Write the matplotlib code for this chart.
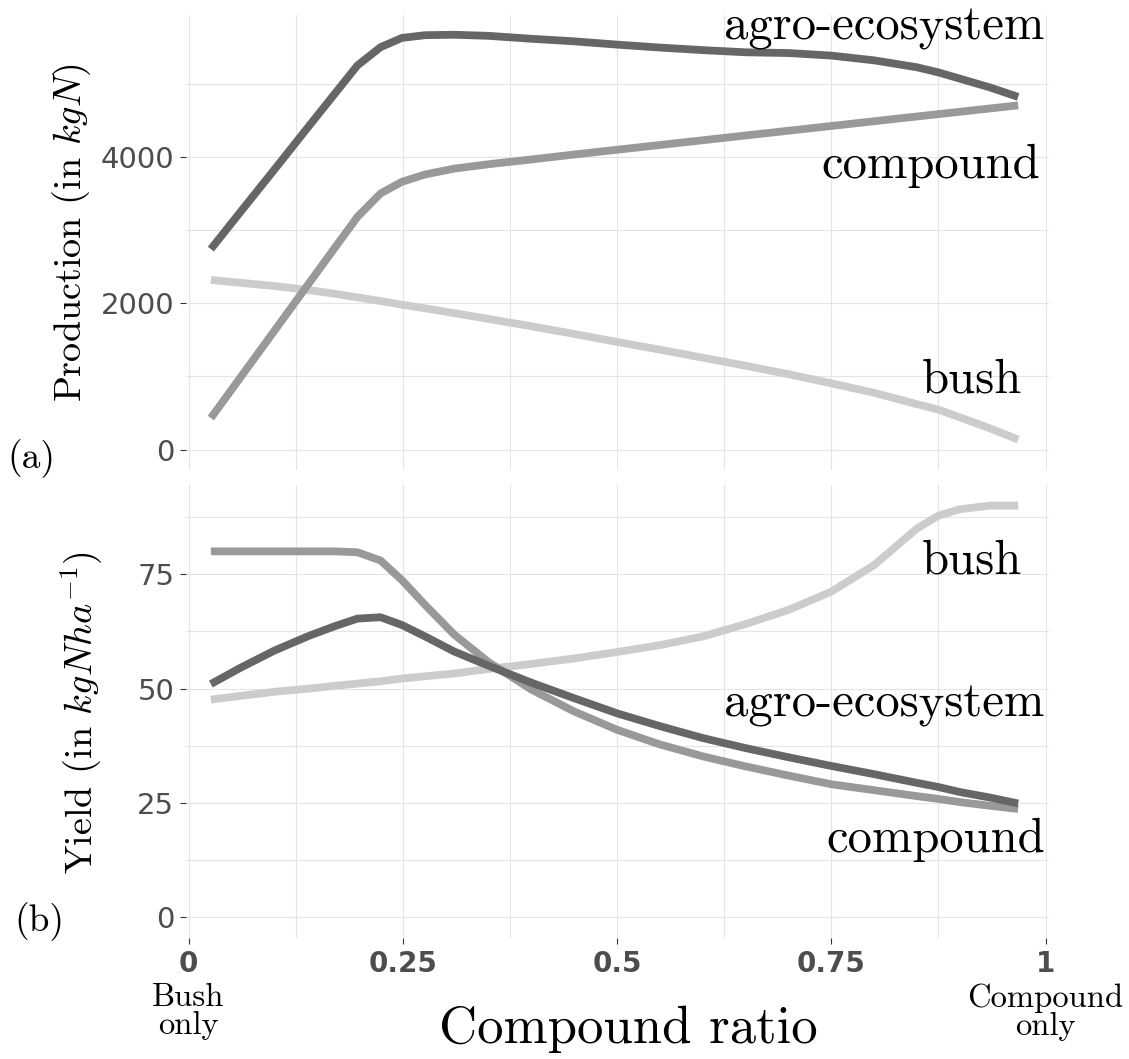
import matplotlib
matplotlib.use("Agg")
import matplotlib.pyplot as plt
from matplotlib.ticker import MultipleLocator

plt.rcParams['mathtext.fontset'] = 'cm'

# compound ratio sampled along the curves
ratio = [0.026, 0.06, 0.10, 0.14, 0.17, 0.197, 0.224, 0.249, 0.276, 0.31, 0.35,
         0.40, 0.45, 0.50, 0.55, 0.60, 0.65, 0.70, 0.75, 0.80, 0.85, 0.875, 0.90,
         0.935, 0.968]

# (a) production in kgN
prod_agro = [2740, 3240, 3825, 4415, 4855, 5250, 5500, 5627, 5664, 5670, 5655,
             5615, 5580, 5535, 5495, 5460, 5430, 5420, 5385, 5320, 5225, 5155,
             5070, 4950, 4820]
prod_compound = [430, 977, 1621, 2265, 2747, 3180, 3500, 3660, 3760, 3840, 3900,
                 3965, 4033, 4098, 4163, 4228, 4293, 4358, 4423, 4488, 4553, 4585,
                 4617, 4662, 4705]
prod_bush = [2318, 2280, 2235, 2180, 2130, 2080, 2030, 1980, 1930, 1865, 1785,
             1685, 1580, 1470, 1365, 1255, 1145, 1030, 905, 775, 620, 545, 440,
             290, 136]

# (b) yield in kgN/ha
yield_agro = [51.0, 54.5, 58.3, 61.5, 63.6, 65.3, 65.6, 63.9, 61.4, 58.1, 55.0,
              51.3, 47.9, 44.6, 41.8, 39.2, 37.0, 35.0, 33.1, 31.3, 29.4, 28.5,
              27.4, 26.2, 24.9]
yield_compound = [80, 80, 80, 80, 80, 79.8, 78.0, 73.7, 68.3, 61.8, 55.8, 49.8,
                  45.0, 41.0, 37.8, 35.2, 33.0, 31.0, 29.1, 27.8, 26.5, 25.9,
                  25.2, 24.4, 23.7]
yield_bush = [47.6, 48.4, 49.3, 50.0, 50.6, 51.1, 51.6, 52.2, 52.7, 53.3, 54.3,
              55.4, 56.6, 58.0, 59.5, 61.4, 64.1, 67.2, 71.2, 77.0, 85.0, 87.8,
              89.2, 90.0, 90.0]

x_ticks = [0, 0.25, 0.5, 0.75, 1]
x_ticklabels = ['0', '0.25', '0.5', '0.75', '1']

c_agro, c_comp, c_bush = '#666666', '#999999', '#cccccc'
W, H = 1129, 1059
fig = plt.figure(figsize=(W / 100, H / 100), dpi=100)


def px_axes(l, t, r, b):
    return fig.add_axes([l / W, 1 - b / H, (r - l) / W, (b - t) / H])


ax1 = px_axes(186, 15, 1049, 470)
ax2 = px_axes(186, 485, 1049, 938)

serif = 'cmr10'
lw = 5.6

for ax in (ax1, ax2):
    for s in ax.spines.values():
        s.set_visible(False)
    ax.set_xlim(-0.003, 1.004)
    ax.xaxis.set_minor_locator(MultipleLocator(0.125))
    ax.grid(True, which='both', color='#e4e4e4', linewidth=0.8)
    ax.set_axisbelow(True)
    ax.tick_params(axis='both', which='major', colors='#333333', length=4.5,
                   width=0.8, labelcolor='#4d4d4d', labelsize=21, pad=4)
    ax.tick_params(which='minor', length=0)
    ax.set_xticks(x_ticks)

# top panel: production
ax1.plot(ratio, prod_bush, color=c_bush, lw=lw, solid_capstyle='butt')
ax1.plot(ratio, prod_compound, color=c_comp, lw=lw, solid_capstyle='butt')
ax1.plot(ratio, prod_agro, color=c_agro, lw=lw, solid_capstyle='butt')
ax1.set_ylim(-280, 5940)
ax1.set_yticks([0, 2000, 4000])
ax1.yaxis.set_minor_locator(MultipleLocator(1000))
ax1.tick_params(axis='x', length=0, labelbottom=False)

ax1.text(0.999, 5605, 'agro-ecosystem', family=serif, fontsize=35, ha='right', va='baseline')
ax1.text(0.994, 3709, 'compound', family=serif, fontsize=35, ha='right', va='baseline')
ax1.text(0.973, 777, 'bush', family=serif, fontsize=35, ha='right', va='baseline')

# bottom panel: yield
ax2.plot(ratio, yield_bush, color=c_bush, lw=lw, solid_capstyle='butt')
ax2.plot(ratio, yield_compound, color=c_comp, lw=lw, solid_capstyle='butt')
ax2.plot(ratio, yield_agro, color=c_agro, lw=lw, solid_capstyle='butt')
ax2.set_ylim(-4.5, 94.5)
ax2.set_yticks([0, 25, 50, 75])
ax2.yaxis.set_minor_locator(MultipleLocator(12.5))
ax2.set_xticklabels(x_ticklabels, fontweight='bold', fontsize=20)

ax2.text(0.973, 75.2, 'bush', family=serif, fontsize=35, ha='right', va='baseline')
ax2.text(0.999, 43.9, 'agro-ecosystem', family=serif, fontsize=35, ha='right', va='baseline')
ax2.text(0.999, 14.3, 'compound', family=serif, fontsize=35, ha='right', va='baseline')

# extra x labels under the end ticks
tr = ax2.get_xaxis_transform()
ax2.text(0, -0.1, 'Bush\nonly', transform=tr, family=serif, fontsize=23.5,
         ha='center', va='top', linespacing=0.95)
ax2.text(1, -0.1, 'Compound\nonly', transform=tr, family=serif, fontsize=23.5,
         ha='center', va='top', linespacing=0.95)

# axis titles and panel tags
fig.text(72 / W, 1 - 232 / H, r'Production (in $kgN$)', family=serif, fontsize=27.5,
         rotation=90, ha='center', va='center')
fig.text(82 / W, 1 - 712 / H, r'Yield (in $kgNha^{-1}$)', family=serif, fontsize=27.5,
         rotation=90, ha='center', va='center')
fig.text(628 / W, 1 - 1043 / H, 'Compound ratio', family=serif, fontsize=38,
         ha='center', va='baseline')
fig.text(7 / W, 1 - 459 / H, '(a)', family=serif, fontsize=27, ha='left', va='center')
fig.text(14 / W, 1 - 922 / H, '(b)', family=serif, fontsize=27, ha='left', va='center')

fig.savefig('out.png', dpi=100)
